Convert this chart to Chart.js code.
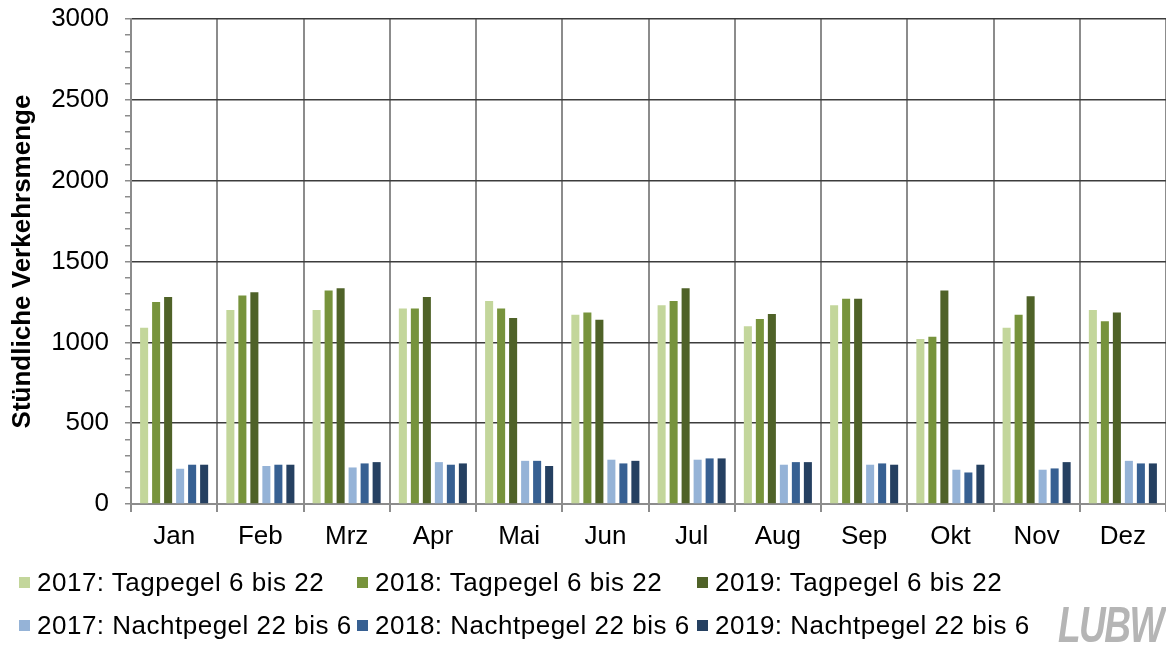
<!DOCTYPE html>
<html>
<head>
<meta charset="utf-8">
<script src="https://cdn.jsdelivr.net/npm/chart.js@4.4.1/dist/chart.umd.min.js"></script>
<style>
    html, body { margin: 0; padding: 0; background: #fff; overflow: hidden; }
    #wrap { position: relative; width: 1166px; height: 646px; }
    #trafficChart { position: absolute; left: 0; top: 0; }
    .legend-item {
        position: absolute;
        height: 30px;
        line-height: 30px;
        font-family: "Liberation Sans", Arial, sans-serif;
        font-size: 26px;
        letter-spacing: 0.5px;
        color: #000;
        white-space: nowrap;
    }
    .legend-box {
        position: absolute;
        left: 0;
        top: 10px;
        width: 11px;
        height: 11px;
    }
    .legend-text { position: absolute; left: 18px; top: 0; }
    #logo {
        position: absolute;
        left: 1058px;
        top: 597px;
        font-family: "Liberation Sans", Arial, sans-serif;
        font-weight: bold;
        font-style: italic;
        font-size: 50px;
        letter-spacing: -2px;
        line-height: 56px;
        color: #b5b5b5;
        transform: scaleX(0.74);
        transform-origin: left top;
    }
</style>
</head>
<body>
<div id="wrap">
    <canvas id="trafficChart" width="1166" height="646"></canvas>
    <div id="legend"></div>
    <div id="logo">LUBW</div>
</div>
<script>
const months = ['Jan', 'Feb', 'Mrz', 'Apr', 'Mai', 'Jun', 'Jul', 'Aug', 'Sep', 'Okt', 'Nov', 'Dez'];

const day2017 = [1090, 1200, 1200, 1210, 1255, 1170, 1230, 1100, 1230, 1020, 1090, 1200];
const day2018 = [1250, 1290, 1320, 1210, 1210, 1185, 1255, 1145, 1270, 1035, 1170, 1130];
const day2019 = [1280, 1310, 1335, 1280, 1150, 1140, 1335, 1175, 1270, 1320, 1285, 1185];

const night2017 = [218, 235, 226, 259, 267, 274, 274, 243, 243, 212, 212, 267];
const night2018 = [243, 243, 251, 243, 267, 251, 282, 259, 251, 195, 220, 251];
const night2019 = [243, 243, 259, 251, 235, 267, 282, 259, 243, 243, 259, 251];

const seriesLabels = [
    '2017: Tagpegel 6 bis 22',
    '2018: Tagpegel 6 bis 22',
    '2019: Tagpegel 6 bis 22',
    '2017: Nachtpegel 22 bis 6',
    '2018: Nachtpegel 22 bis 6',
    '2019: Nachtpegel 22 bis 6'
];
const seriesColors = ['#c3d69b', '#77933c', '#4f6228', '#95b3d7', '#376092', '#254061'];

const yTicks = [0, 500, 1000, 1500, 2000, 2500, 3000];

const fontFamily = '"Liberation Sans", Arial, sans-serif';
const axisGray = '#8c8c8c';
const gridDark = '#3c3c3c';

let ctx = document.getElementById('trafficChart');

let trafficChart = new Chart(ctx, {
    type: 'bar',
    data: {
        labels: months,
        datasets: [day2017, day2018, day2019, night2017, night2018, night2019].map((values, i) => ({
            label: seriesLabels[i],
            data: values,
            backgroundColor: seriesColors[i],
            borderWidth: 0,
            categoryPercentage: 0.835,
            barPercentage: 0.67
        }))
    },
    options: {
        responsive: false,
        animation: false,
        layout: {
            padding: { top: 19, left: 0, right: 0, bottom: 0 }
        },
        plugins: {
            legend: { display: false },
            tooltip: { enabled: false }
        },
        scales: {
            x: {
                grid: {
                    offset: true,
                    color: axisGray,
                    lineWidth: 2,
                    tickLength: 8
                },
                border: { color: axisGray, width: 2 },
                ticks: {
                    color: '#000',
                    font: { family: fontFamily, size: 26 },
                    padding: 9
                },
                afterFit: (scale) => { scale.height = 142; }
            },
            y: {
                min: 0,
                max: 3000,
                ticks: {
                    stepSize: 100,
                    autoSkip: false,
                    color: '#000',
                    font: { family: fontFamily, size: 26 },
                    padding: 16,
                    callback: (v) => yTicks.includes(v) ? v : ''
                },
                grid: {
                    color: (c) => {
                        if (c.tick == null) return 'rgba(0,0,0,0)';
                        if (c.tick.value === 0) return axisGray;
                        return yTicks.includes(c.tick.value) ? gridDark : 'rgba(0,0,0,0)';
                    },
                    lineWidth: 1.5,
                    tickColor: axisGray,
                    tickLength: 6
                },
                border: { color: axisGray, width: 2 },
                title: {
                    display: true,
                    text: 'Stündliche Verkehrsmenge',
                    color: '#000',
                    font: { family: fontFamily, size: 26, weight: 'bold' },
                    padding: { top: 7, bottom: 0 }
                },
                afterFit: (scale) => {
                    scale.width = 131;
                    scale.paddingTop = 0;
                    scale.paddingBottom = 0;
                }
            }
        }
    }
});

// Legend laid out in three columns like the original
let legendPos = [[19, 567], [357, 567], [697, 567], [19, 610], [357, 610], [697, 610]];
let legendEl = document.getElementById('legend');
trafficChart.data.datasets.forEach((ds, i) => {
    let item = document.createElement('div');
    item.className = 'legend-item';
    item.style.left = legendPos[i][0] + 'px';
    item.style.top = legendPos[i][1] + 'px';
    let box = document.createElement('span');
    box.className = 'legend-box';
    box.style.background = ds.backgroundColor;
    let text = document.createElement('span');
    text.className = 'legend-text';
    text.textContent = ds.label;
    item.appendChild(box);
    item.appendChild(text);
    legendEl.appendChild(item);
});
</script>
</body>
</html>
